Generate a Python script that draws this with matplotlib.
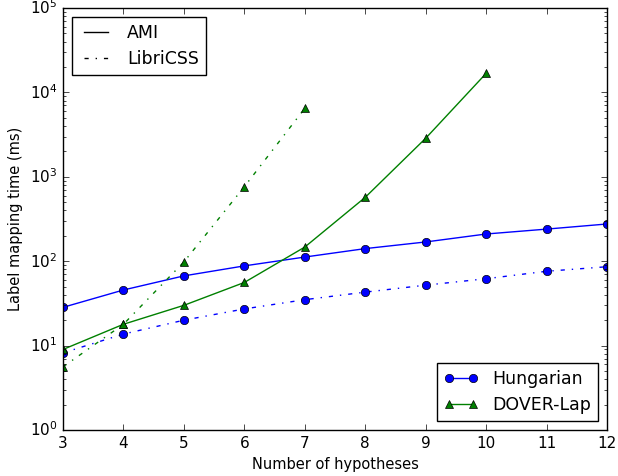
import matplotlib
matplotlib.use("Agg")
import matplotlib.pyplot as plt
from matplotlib.lines import Line2D

plt.style.use('classic')

hyp_hung = [3, 4, 5, 6, 7, 8, 9, 10, 11, 12]
hung_ami = [28.4, 45.6, 67, 88, 112, 141, 169, 210, 240, 276]
hung_libri = [8.2, 13.7, 20, 27.2, 35, 43, 52, 62, 76, 86]

hyp_dover_ami = [3, 4, 5, 6, 7, 8, 9, 10]
dover_ami = [9.0, 17.9, 30, 56, 147, 571, 2860, 16800]

hyp_dover_libri = [3, 4, 5, 6, 7]
dover_libri = [5.6, 17.9, 98, 763, 6470]

fig = plt.figure(figsize=(6.18, 4.76), dpi=100)
ax = fig.add_axes([63/618, 1-430/476, (607-63)/618, (430-8)/476])

ax.plot(hyp_hung, hung_ami, 'b-o')
ax.plot(hyp_hung, hung_libri, 'b-.o')
ax.plot(hyp_dover_ami, dover_ami, 'g-^')
ax.plot(hyp_dover_libri, dover_libri, 'g-.^')

ax.set_yscale('log')
ax.set_xlim(3, 12)
ax.set_ylim(1, 1e5)
ax.tick_params(labelsize=11)
ax.set_xlabel('Number of hypotheses', fontsize=10.5)
ax.set_ylabel('Label mapping time (ms)', fontsize=10.5)

h1 = [Line2D([], [], color='k', ls='-'), Line2D([], [], color='k', ls='-.')]
leg1 = ax.legend(h1, ['AMI', 'LibriCSS'], loc='upper left', fontsize=12.5)
ax.add_artist(leg1)
h2 = [Line2D([], [], color='b', ls='-', marker='o'),
      Line2D([], [], color='g', ls='-', marker='^')]
ax.legend(h2, ['Hungarian', 'DOVER-Lap'], loc='lower right', fontsize=12.5)

fig.savefig('out.png', dpi=100)
